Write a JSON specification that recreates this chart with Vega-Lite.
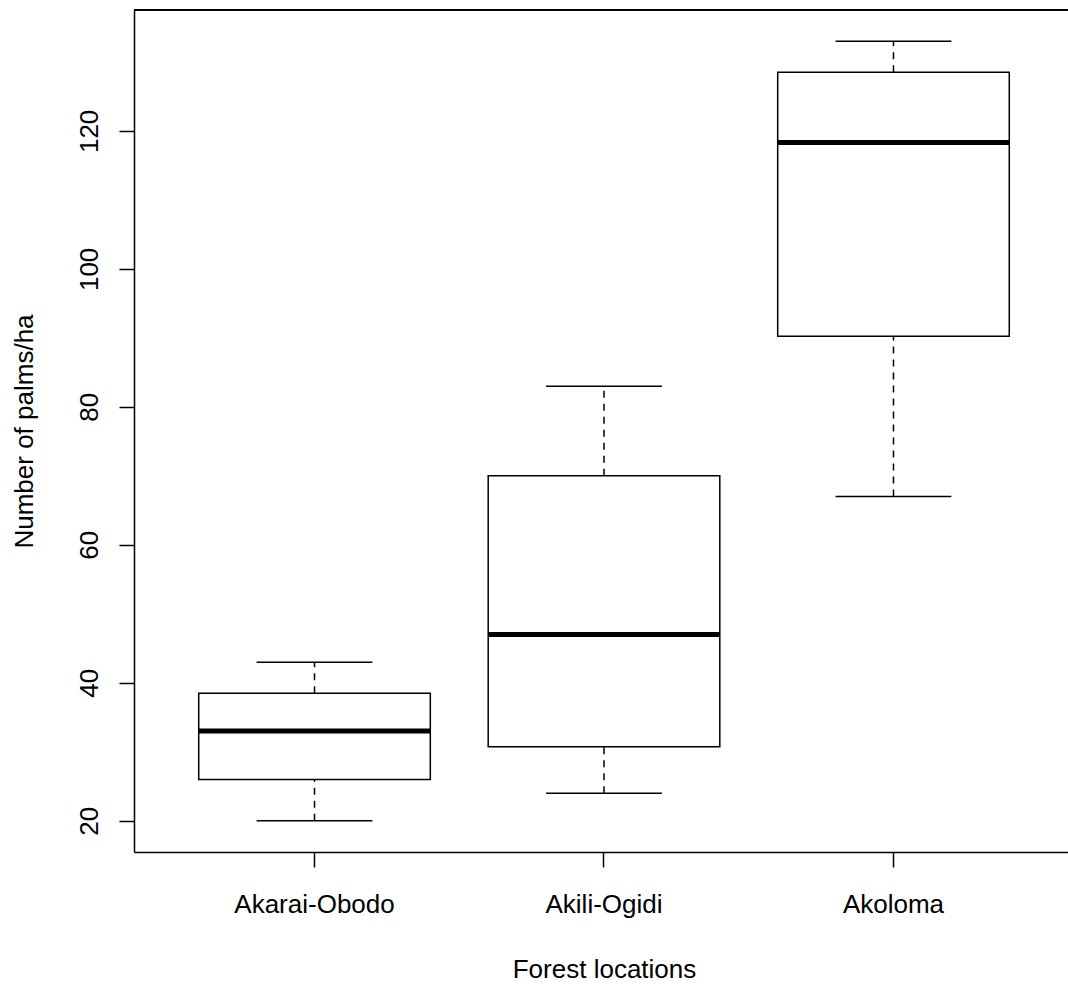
{
  "$schema": "https://vega.github.io/schema/vega-lite/v6.json",
  "width": 934,
  "height": 842,
  "autosize": {"type": "none"},
  "padding": {"left": 134, "top": 10, "right": 0, "bottom": 132},
  "background": "white",
  "config": {
    "view": {"stroke": null},
    "font": "Liberation Sans",
    "axis": {
      "domainColor": "black",
      "domainWidth": 1.5,
      "tickColor": "black",
      "tickWidth": 1.5,
      "tickSize": 15,
      "grid": false,
      "labelFont": "Liberation Sans",
      "labelFontSize": 26,
      "labelColor": "black",
      "titleFont": "Liberation Sans",
      "titleFontSize": 26,
      "titleFontWeight": "normal",
      "titleColor": "black"
    }
  },
  "data": {
    "values": [
      {"location": "Akarai-Obodo", "lo": 20, "q1": 26, "median": 33, "q3": 38.5, "hi": 43},
      {"location": "Akili-Ogidi", "lo": 24, "q1": 30.75, "median": 47, "q3": 70, "hi": 83},
      {"location": "Akoloma", "lo": 67, "q1": 90.25, "median": 118.3, "q3": 128.5, "hi": 133}
    ]
  },
  "layer": [
    {
      "mark": {"type": "bar", "fill": "white", "stroke": "black", "strokeWidth": 1.5},
      "encoding": {
        "x": {
          "field": "location", "type": "nominal", "sort": null,
          "scale": {"type": "band", "paddingInner": 0.2, "paddingOuter": 0.2132, "align": 0.5243},
          "axis": {
            "title": "Forest locations",
            "labelAngle": 0,
            "labelBaseline": "alphabetic",
            "labelPadding": 45,
            "titleBaseline": "alphabetic",
            "titleAlign": "center",
            "titleX": 470,
            "titleY": 125.5
          }
        },
        "y": {
          "field": "q1", "type": "quantitative",
          "scale": {"domain": [15.48, 137.52], "nice": false, "zero": false},
          "axis": {
            "title": "Number of palms/ha",
            "values": [20, 40, 60, 80, 100, 120],
            "labelAngle": -90,
            "labelAlign": "center",
            "labelBaseline": "alphabetic",
            "labelPadding": 22,
            "titleAngle": -90,
            "titleBaseline": "alphabetic",
            "titleAlign": "center",
            "titleX": -101.5,
            "titleY": 421
          }
        },
        "y2": {"field": "q3"}
      }
    },
    {
      "mark": {"type": "rule", "color": "black", "strokeWidth": 1.5},
      "encoding": {
        "y": {"datum": 137.52, "type": "quantitative"}
      }
    },
    {
      "mark": {"type": "rule", "color": "black", "strokeWidth": 1.5, "strokeDash": [7, 6]},
      "encoding": {
        "x": {"field": "location", "type": "nominal", "sort": null},
        "y": {"field": "q3", "type": "quantitative"},
        "y2": {"field": "hi"}
      }
    },
    {
      "mark": {"type": "rule", "color": "black", "strokeWidth": 1.5, "strokeDash": [7, 6]},
      "encoding": {
        "x": {"field": "location", "type": "nominal", "sort": null},
        "y": {"field": "lo", "type": "quantitative"},
        "y2": {"field": "q1"}
      }
    },
    {
      "mark": {"type": "tick", "color": "black", "thickness": 5, "size": 231.6, "opacity": 1},
      "encoding": {
        "x": {"field": "location", "type": "nominal", "sort": null},
        "y": {"field": "median", "type": "quantitative"}
      }
    },
    {
      "mark": {"type": "tick", "color": "black", "thickness": 1.5, "size": 115.8, "opacity": 1},
      "encoding": {
        "x": {"field": "location", "type": "nominal", "sort": null},
        "y": {"field": "hi", "type": "quantitative"}
      }
    },
    {
      "mark": {"type": "tick", "color": "black", "thickness": 1.5, "size": 115.8, "opacity": 1},
      "encoding": {
        "x": {"field": "location", "type": "nominal", "sort": null},
        "y": {"field": "lo", "type": "quantitative"}
      }
    }
  ]
}
